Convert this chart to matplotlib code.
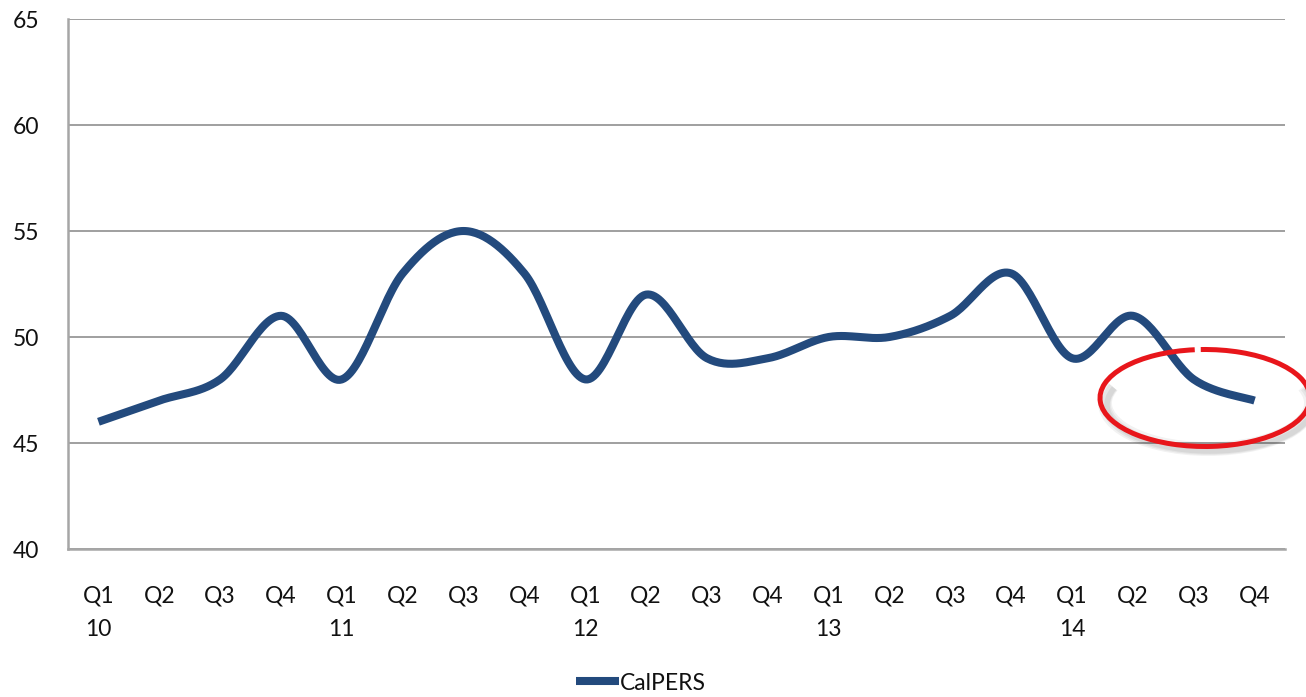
import numpy as np
import matplotlib
matplotlib.use("Agg")
import matplotlib.pyplot as plt
from matplotlib.patches import Arc

quarters = ["Q1\n10", "Q2", "Q3", "Q4", "Q1\n11", "Q2", "Q3", "Q4",
            "Q1\n12", "Q2", "Q3", "Q4", "Q1\n13", "Q2", "Q3", "Q4",
            "Q1\n14", "Q2", "Q3", "Q4"]
calpers = [46, 47, 48, 51, 48, 53, 55, 53, 48, 52, 49, 49, 50, 50, 51, 53, 49, 51, 48, 47]
y_ticks = [40, 45, 50, 55, 60, 65]

def smooth(x, y, n=30):
    # Catmull-Rom style smoothing (as Excel "smoothed line")
    x = np.asarray(x, float); y = np.asarray(y, float)
    px = np.concatenate([[x[0]], x, [x[-1]]])
    py = np.concatenate([[y[0]], y, [y[-1]]])
    xs, ys = [], []
    for i in range(1, len(px) - 2):
        p0, p1, p2, p3 = (px[i-1], py[i-1]), (px[i], py[i]), (px[i+1], py[i+1]), (px[i+2], py[i+2])
        c1 = (p1[0] + (p2[0] - p0[0]) / 6, p1[1] + (p2[1] - p0[1]) / 6)
        c2 = (p2[0] - (p3[0] - p1[0]) / 6, p2[1] - (p3[1] - p1[1]) / 6)
        t = np.linspace(0, 1, n)
        bx = (1-t)**3*p1[0] + 3*(1-t)**2*t*c1[0] + 3*(1-t)*t**2*c2[0] + t**3*p2[0]
        by = (1-t)**3*p1[1] + 3*(1-t)**2*t*c1[1] + 3*(1-t)*t**2*c2[1] + t**3*p2[1]
        xs.append(bx); ys.append(by)
    return np.concatenate(xs), np.concatenate(ys)

plt.rcParams['font.family'] = ['Lato', 'DejaVu Sans']

W, H = 1306, 697
fig = plt.figure(figsize=(W/100, H/100), dpi=100)
ax = fig.add_axes([68/W, 1 - 549/H, (1285-68)/W, (549-19)/H])

x = np.arange(len(calpers))
sx, sy = smooth(x, calpers)
line_color = '#234a7d'
ax.plot(sx, sy, color=line_color, lw=5.8, solid_capstyle='butt', label='CalPERS', zorder=3)

ax.set_xlim(-0.5, len(calpers) - 0.5)
ax.set_ylim(40, 65)
ax.set_yticks(y_ticks)
ax.set_yticklabels([str(v) for v in y_ticks])
ax.set_xticks(x)
ax.set_xticklabels(quarters, linespacing=1.75, va='top')
for lbl in ax.get_yticklabels():
    lbl.set_horizontalalignment('left')
ax.tick_params(axis='y', length=0, pad=40, labelsize=16.5, colors='#111111')
ax.tick_params(axis='x', length=0, pad=26, labelsize=16.5, colors='#111111')

ax.grid(axis='y', color='#8f8f8f', lw=1.2, zorder=0)
ax.set_axisbelow(True)
for s in ['top', 'right']:
    ax.spines[s].set_visible(False)
ax.spines['left'].set_color('#a6a6a6')
ax.spines['left'].set_linewidth(1.8)
ax.spines['bottom'].set_color('#a6a6a6')
ax.spines['bottom'].set_linewidth(1.8)

leg = fig.legend(loc='center', bbox_to_anchor=(641/W, 1 - 683/H), frameon=False,
                 fontsize=16.5, handlelength=1.9, handletextpad=0.05,
                 labelcolor='#111111')

# red hand-drawn circle with soft shadow (figure pixel coords)
cx, cy = 1205, H - 398
for k, (dx, dy, a, w) in enumerate([(3, -5, 0.05, 10), (4, -6, 0.05, 7), (5, -7, 0.06, 4)]):
    fig.add_artist(Arc((cx + dx, cy + dy), 206, 92, theta1=170, theta2=370,
                       transform=None, color='#000000', alpha=a, lw=w, zorder=4))
circ = Arc((cx, cy), 210, 97, theta1=102, theta2=455,
           transform=None, color='#e8161b', lw=3.6, zorder=5)
fig.add_artist(circ)

fig.savefig('out.png', dpi=100)
